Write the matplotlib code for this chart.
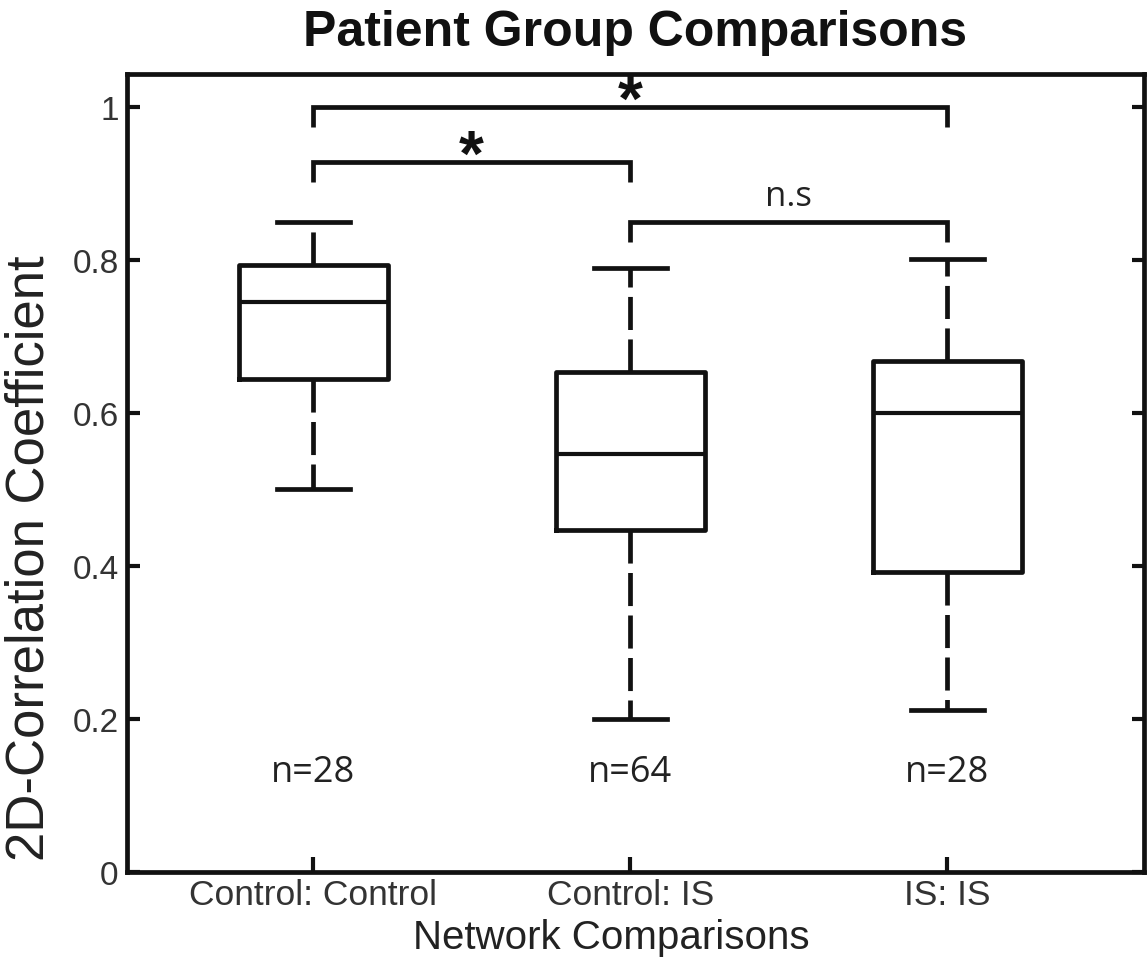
import matplotlib
matplotlib.use("Agg")
import matplotlib.pyplot as plt

# values
groups = ["Control: Control", "Control: IS", "IS: IS"]
whisker_lo = [0.50, 0.20, 0.212]
q1 = [0.645, 0.447, 0.392]
median = [0.745, 0.546, 0.600]
q3 = [0.793, 0.654, 0.668]
whisker_hi = [0.85, 0.79, 0.801]
n_counts = [28, 64, 28]

# significance brackets: (left group, right group, height, label)
brackets = [(1, 3, 1.0, "*"), (1, 2, 0.928, "*"), (2, 3, 0.85, "n.s")]

plt.rcParams['font.family'] = ['Liberation Sans', 'DejaVu Sans']

fig = plt.figure(figsize=(11.48, 9.62), dpi=100)
ax = fig.add_axes([0.1106, 0.0925, 0.8859, 0.8295])

stats = []
for i in range(len(groups)):
    stats.append({"whislo": whisker_lo[i], "q1": q1[i], "med": median[i],
                  "q3": q3[i], "whishi": whisker_hi[i], "fliers": []})

positions = [1, 2, 3]
lw = 3.4
ax.bxp(stats, positions=positions, widths=0.47, capwidths=0.23,
       showfliers=False,
       boxprops=dict(color="#111111", linewidth=lw),
       medianprops=dict(color="#111111", linewidth=lw - 0.4),
       whiskerprops=dict(color="#111111", linewidth=lw, linestyle=(0, (7, 2))),
       capprops=dict(color="#111111", linewidth=lw))

# brackets
for a, b, h, lab in brackets:
    drop = 0.026
    ax.plot([a, a, b, b], [h - drop, h, h, h - drop], color="#111111",
            lw=lw, solid_joinstyle="miter", solid_capstyle="butt")
    if lab == "*":
        ax.text((a + b) / 2, h - 0.017, lab, ha="center", va="baseline",
                fontsize=46, fontweight="bold", color="#111111")
    else:
        ax.text((a + b) / 2, h + 0.012, lab, ha="center", va="bottom",
                fontsize=25, color="#222222", family=["Open Sans", "DejaVu Sans"])

for p, n in zip(positions, n_counts):
    ax.text(p, 0.131, "n=%d" % n, ha="center", va="center", fontsize=26,
            color="#222222", family=["Open Sans", "DejaVu Sans"])

ax.set_xlim(0.413, 3.62)
ax.set_ylim(0, 1.043)
ax.set_xticks(positions)
ax.set_xticklabels(groups)
ax.set_yticks([0, 0.2, 0.4, 0.6, 0.8, 1.0])
ax.set_yticklabels(["0", "0.2", "0.4", "0.6", "0.8", "1"])

for s in ax.spines.values():
    s.set_linewidth(3.4)
    s.set_color("#111111")

ax.tick_params(axis="y", direction="in", length=9, width=3, right=True,
               labelsize=24, labelcolor="#333333", color="#111111", pad=6)
ax.tick_params(axis="x", direction="in", length=11, width=3, top=False,
               labelsize=25.5, labelcolor="#333333", color="#111111", pad=4)

ax.set_xlabel("Network Comparisons", fontsize=29, color="#222222")
ax.xaxis.set_label_coords(0.476, -0.058)
ax.set_ylabel("2D-Correlation Coefficient", fontsize=38, color="#222222")
ax.yaxis.set_label_coords(-0.071, 0.395)
ax.set_title("Patient Group Comparisons", fontsize=36, fontweight="bold",
             color="#111111", pad=21)

fig.savefig("out.png", dpi=100)
